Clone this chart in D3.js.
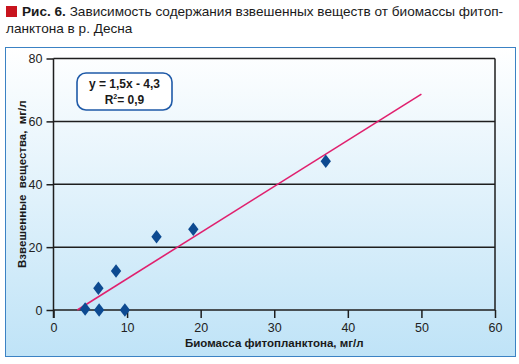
<!DOCTYPE html>
<html><head><meta charset="utf-8">
<script src="https://cdn.jsdelivr.net/npm/d3@7"></script>
<style>body{margin:0;background:#fff}svg{display:block;font-family:"Liberation Sans",Arial,sans-serif}</style>
</head><body>
<svg id="c" width="519" height="364"></svg>
<script>
const biomass = [4.3, 6.2, 6.1, 8.5, 9.7, 14.0, 19.0, 37.0];
const suspended = [0.3, 0.0, 6.9, 12.4, 0.0, 23.3, 25.7, 47.3];
const xTicks = [0, 10, 20, 30, 40, 50, 60];
const yTicks = [0, 20, 40, 60, 80];
const trendEndX = 50;
const titleBold = "Рис. 6.";
const titleLine1 = " Зависимость содержания взвешенных веществ от биомассы фитоп-";
const titleLine2 = "ланктона в р. Десна";
const xTitle = "Биомасса фитопланктона, мг/л";
const yTitle = "Взвешенные вещества, мг/л";
const eqLines = ["y = 1,5x - 4,3", "R²= 0,9"];

const svg = d3.select("#c");
const defs = svg.append("defs");
const g = defs.append("linearGradient").attr("id","bg").attr("x1",0).attr("y1",0).attr("x2",0).attr("y2",1);
g.append("stop").attr("offset","0%").attr("stop-color","#ffffff");
g.append("stop").attr("offset","100%").attr("stop-color","#bfe3f7");

// title
svg.append("rect").attr("x",6).attr("y",6).attr("width",11).attr("height",11).attr("fill","#c8141e");
const t1 = svg.append("text").attr("x",22).attr("y",16).attr("font-size",13.6).attr("fill","#1a1a1a");
t1.append("tspan").attr("font-weight","bold").text(titleBold);
t1.append("tspan").text(titleLine1);
svg.append("text").attr("x",6).attr("y",33).attr("font-size",13.6).attr("fill","#1a1a1a").text(titleLine2);

// panel
svg.append("rect").attr("x",5.5).attr("y",47.5).attr("width",510).attr("height",309)
  .attr("fill","url(#bg)").attr("stroke","#3b82c4").attr("stroke-width",1);

const x = d3.scaleLinear().domain([0,60]).range([53.5,495]);
const y = d3.scaleLinear().domain([0,80]).range([310,58.5]);

// gridlines
svg.append("g").selectAll("line").data(yTicks.filter(d=>d>0)).join("line")
  .attr("x1",x(0)).attr("x2",x(60)).attr("y1",d=>y(d)).attr("y2",d=>y(d))
  .attr("stroke","#1e1e1e").attr("stroke-width",1.5);
svg.append("line").attr("x1",x(60)).attr("x2",x(60)).attr("y1",y(80)).attr("y2",y(0))
  .attr("stroke","#1e1e1e").attr("stroke-width",1.5);

// axes
const xa = svg.append("g").attr("transform",`translate(0,${y(0)})`)
  .call(d3.axisBottom(x).tickValues(xTicks).tickSize(8).tickPadding(5));
const ya = svg.append("g").attr("transform",`translate(${x(0)},0)`)
  .call(d3.axisLeft(y).tickValues(yTicks).tickSize(7).tickPadding(4));
[xa,ya].forEach(a=>{
  a.select(".domain").remove();
  a.selectAll("line").attr("stroke","#1e1e1e").attr("stroke-width",1.5);
  a.selectAll("text").attr("font-size",12.5).attr("fill","#222").attr("font-family","Liberation Sans, Arial, sans-serif");
});
svg.append("line").attr("x1",x(0)).attr("x2",x(60)).attr("y1",y(0)).attr("y2",y(0)).attr("stroke","#1e1e1e").attr("stroke-width",1.5);
svg.append("line").attr("x1",x(0)).attr("x2",x(0)).attr("y1",y(80)).attr("y2",y(0)+8).attr("stroke","#1e1e1e").attr("stroke-width",1.5);

// axis titles
svg.append("text").attr("x",(x(0)+x(60))/2).attr("y",347).attr("text-anchor","middle")
  .attr("font-size",11.5).attr("font-weight","bold").attr("fill","#1a1a1a").text(xTitle);
svg.append("text").attr("transform",`translate(26,${(y(0)+y(80))/2}) rotate(-90)`).attr("text-anchor","middle")
  .attr("font-size",11.5).attr("font-weight","bold").attr("word-spacing",3).attr("fill","#1a1a1a").text(yTitle);

// regression
const mx = d3.mean(biomass), my = d3.mean(suspended);
let sxy=0, sxx=0;
biomass.forEach((v,i)=>{sxy+=(v-mx)*(suspended[i]-my); sxx+=(v-mx)*(v-mx);});
const slope = sxy/sxx, icpt = my - slope*mx;
const x0 = -icpt/slope;
svg.append("line").attr("x1",x(x0)).attr("y1",y(0)).attr("x2",x(trendEndX)).attr("y2",y(slope*trendEndX+icpt))
  .attr("stroke","#e0206e").attr("stroke-width",1.6);

// points
const sym = d3.symbol().type(d3.symbolDiamond).size(70);
svg.append("g").selectAll("path").data(biomass.map((v,i)=>[v,suspended[i]])).join("path")
  .attr("d", sym).attr("transform",d=>`translate(${x(d[0])},${y(d[1])}) scale(1.15,0.87)`)
  .attr("fill","#0d4a91");

// equation box
svg.append("rect").attr("x",77).attr("y",73).attr("width",95).attr("height",37).attr("rx",9)
  .attr("fill","#fff").attr("stroke","#1f5aa8").attr("stroke-width",1.6);
svg.append("text").attr("x",124.5).attr("y",88).attr("text-anchor","middle").attr("font-size",12).attr("font-weight","bold").attr("fill","#1a1a1a").text(eqLines[0]);
const r = svg.append("text").attr("x",124.5).attr("y",104).attr("text-anchor","middle").attr("font-size",12).attr("font-weight","bold").attr("fill","#1a1a1a");
r.append("tspan").text("R");
r.append("tspan").attr("font-size",7).attr("dy",-5).text("2");
r.append("tspan").attr("dy",5).text("= 0,9");
</script>
</body></html>
